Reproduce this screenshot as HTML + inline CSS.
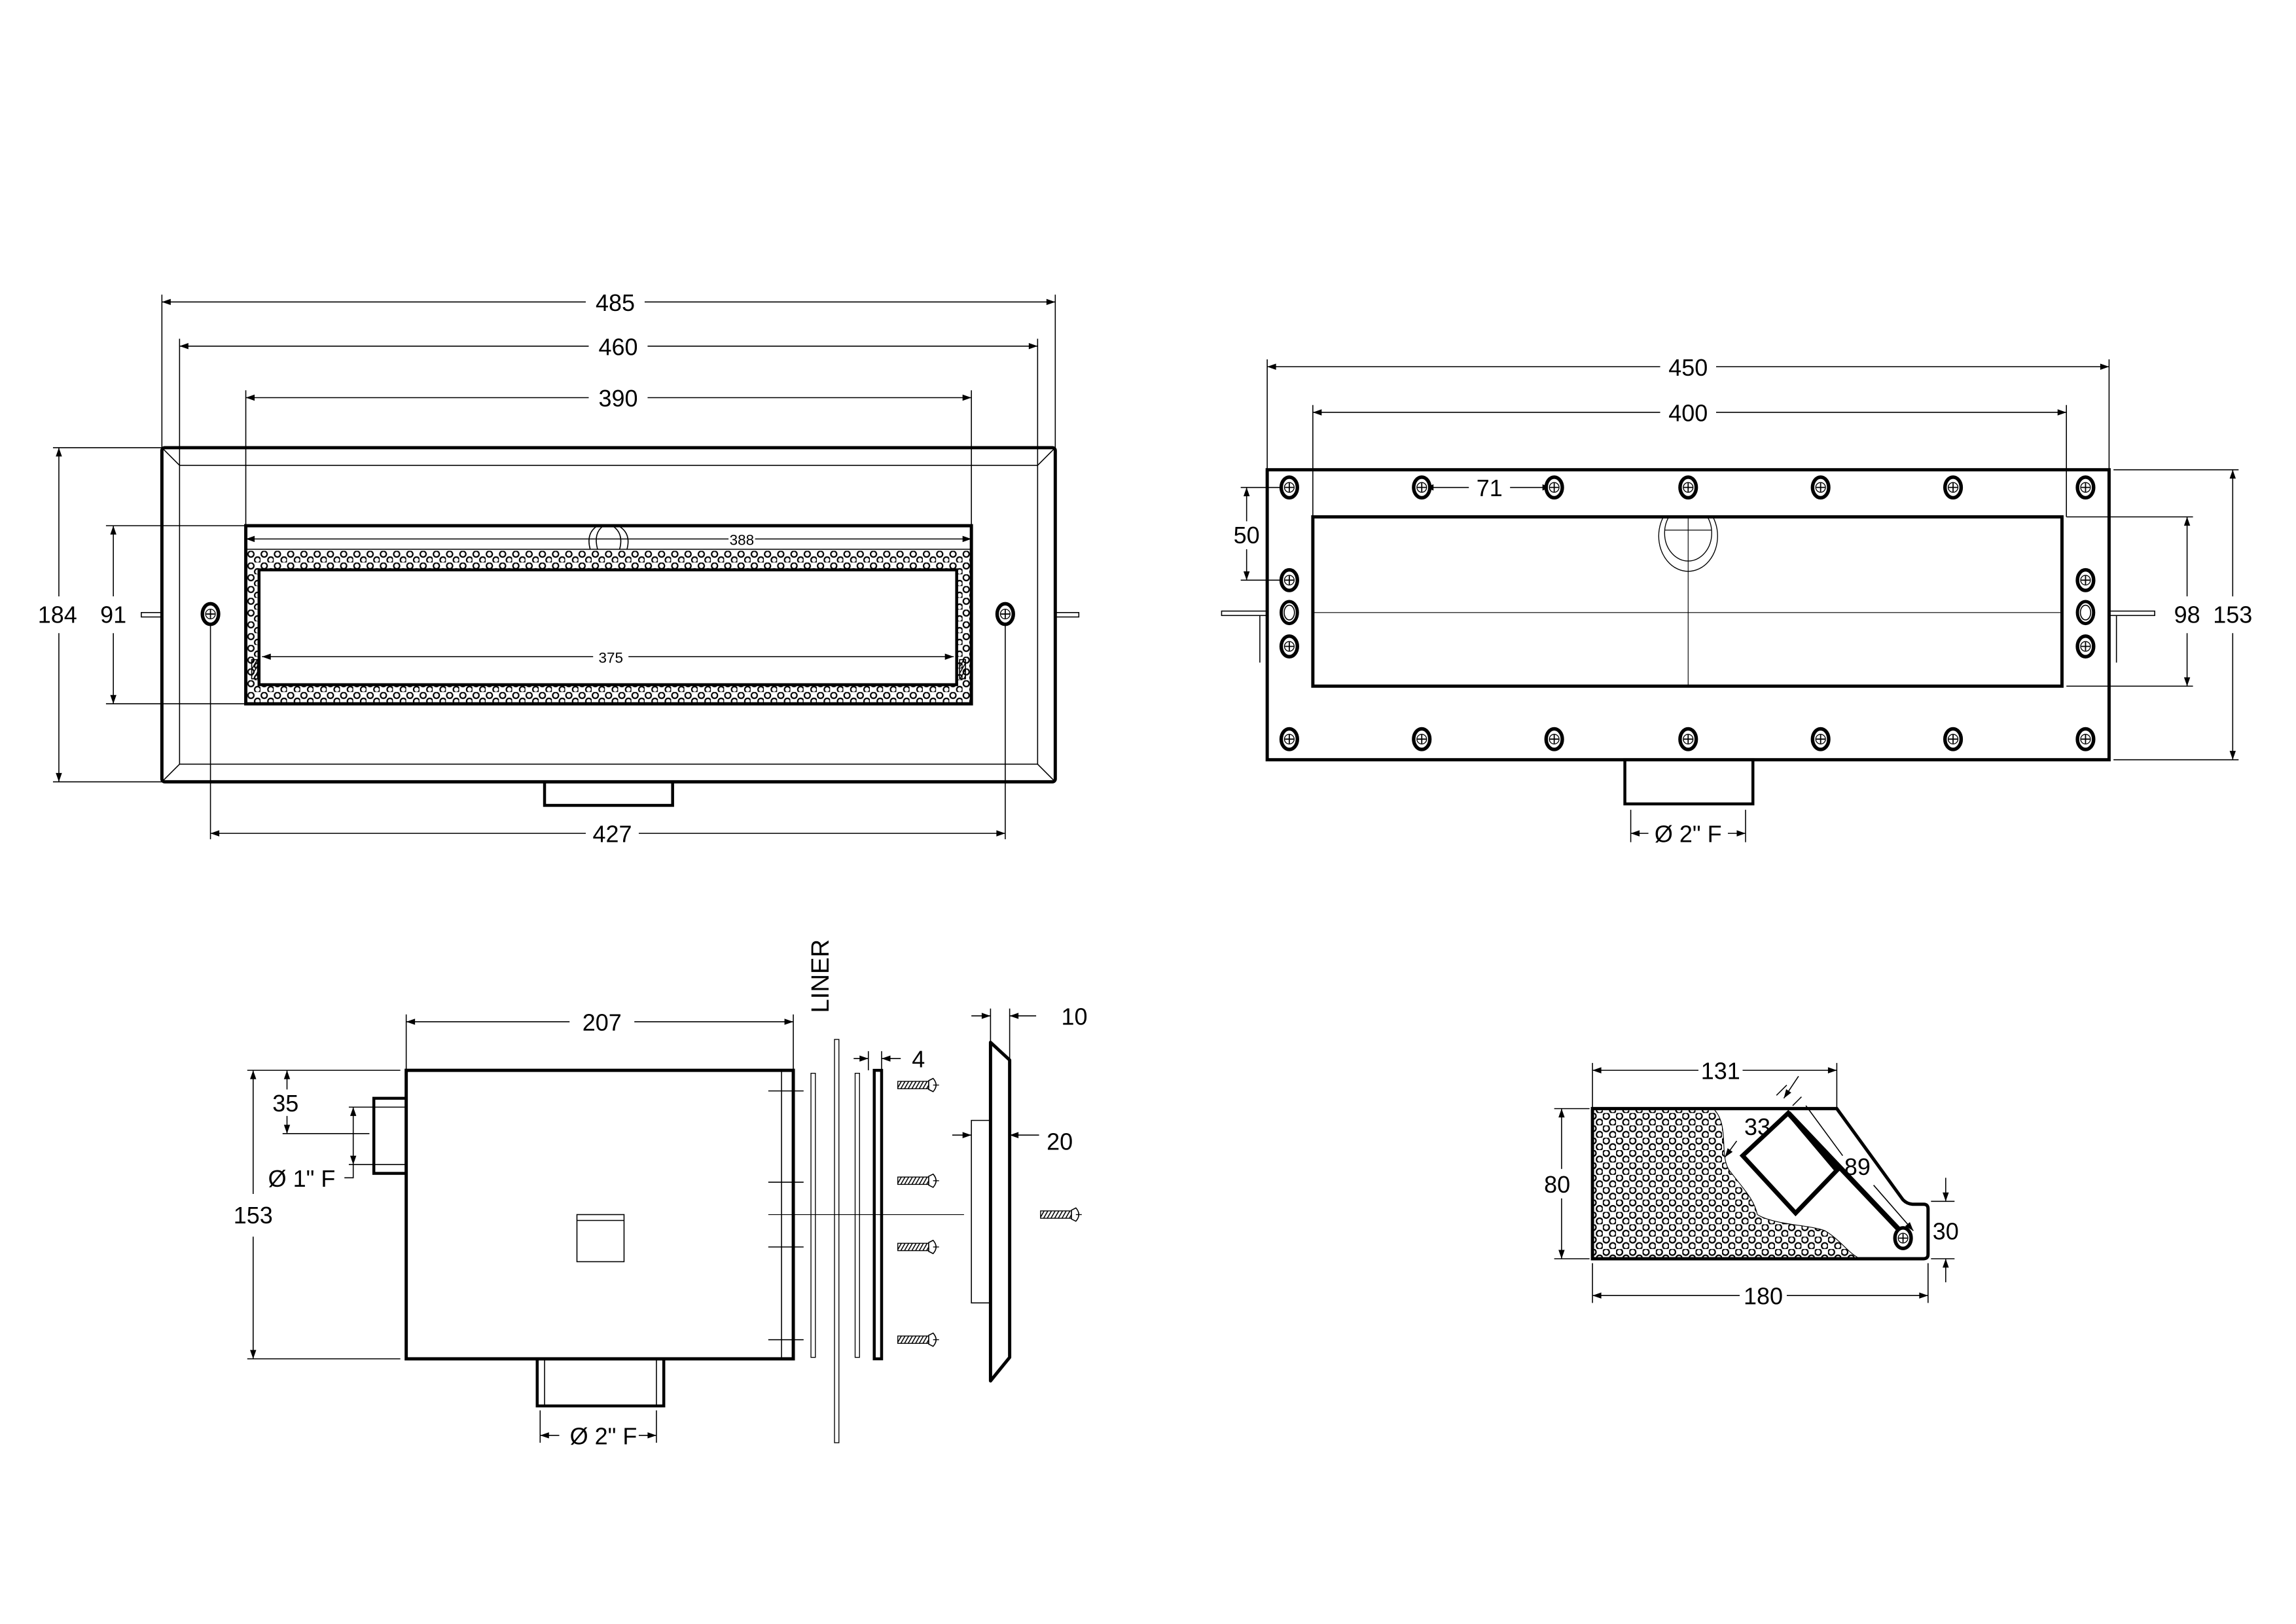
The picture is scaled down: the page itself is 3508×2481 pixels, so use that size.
<!DOCTYPE html>
<html><head><meta charset="utf-8"><style>
html,body{margin:0;padding:0;background:#fff;}
svg{display:block;}
text{font-family:"Liberation Sans",Arial,sans-serif;font-size:16px;text-anchor:middle;fill:#000;}
</style></head><body>
<svg width="3508" height="2481" viewBox="0 0 1560 1103" xmlns="http://www.w3.org/2000/svg">
<defs>
<marker id="a" viewBox="0 0 10 10" refX="10" refY="5" markerWidth="8" markerHeight="6" markerUnits="userSpaceOnUse" orient="auto-start-reverse"><path d="M0,1.5 L10,5 L0,8.5z" fill="#000"/></marker>
<pattern id="p1" width="9" height="8" patternUnits="userSpaceOnUse" x="168" y="374"><circle cx="2.5" cy="2.3" r="2" fill="none" stroke="#000" stroke-width="1"/><circle cx="7" cy="6.3" r="2" fill="none" stroke="#000" stroke-width="1"/></pattern>
<pattern id="p2" width="9" height="8.4" patternUnits="userSpaceOnUse"><circle cx="2.3" cy="2.1" r="2.1" fill="none" stroke="#000" stroke-width="1"/><circle cx="6.8" cy="6.3" r="2.1" fill="none" stroke="#000" stroke-width="1"/></pattern>
<pattern id="h" width="2.5" height="5" patternUnits="userSpaceOnUse" patternTransform="skewX(-30)"><path d="M1,0V5" stroke="#000" stroke-width="0.8"/></pattern>
<g id="s"><ellipse rx="5.5" ry="7" fill="#fff" stroke="#000" stroke-width="2.4"/><circle r="3.3" fill="none" stroke="#000" stroke-width="0.6"/><path d="M-3,0H3M0,-3V3" stroke="#000" stroke-width="0.8"/></g>
<g id="sc"><rect x="0" y="-2.5" width="21" height="5" fill="url(#h)" stroke="#000" stroke-width="0.6"/><path d="M21,-3 L24,-4.5 Q28,0 24,4.5 L21,3z" fill="#fff" stroke="#000" stroke-width="0.7"/><path d="M24,0H28" stroke="#000" stroke-width="0.6"/></g>
<clipPath id="cc"><rect x="892" y="351" width="509" height="115"/></clipPath>
</defs>
<g fill="none" stroke="#000" stroke-width="0.7">
<rect x="110" y="304" width="607" height="227" stroke-width="2.2" rx="2"/>
<rect x="122" y="316" width="583" height="203"/>
<path d="M110,304L122,316M717,304L705,316M110,531L122,519M717,531L705,519"/>
<rect x="96" y="416" width="14" height="3"/><rect x="717" y="416" width="16" height="3"/>
<rect x="167" y="357" width="493" height="121" stroke-width="2.2" fill="#fff"/>
<rect x="168" y="374" width="491" height="103" fill="url(#p1)" stroke="none"/>
<path d="M167,373H660"/>
<rect x="176" y="387" width="474" height="78" stroke-width="2" fill="#fff"/>
<path d="M401,373Q398,362 406,357M406,373Q403,362 410,357M421,373Q424,362 416,357M426,373Q429,362 420,357"/>
<path d="M167,366H495" marker-start="url(#a)"/><path d="M513,366H660" marker-end="url(#a)"/>
<path d="M178,446H403" marker-start="url(#a)"/><path d="M427,446H648" marker-end="url(#a)"/>
<rect x="171" y="448" width="4" height="13" fill="url(#h)"/><rect x="652" y="448" width="4" height="13" fill="url(#h)"/>
<path d="M143,423V570M683,423V570"/>
<path d="M143,566H398" marker-start="url(#a)"/><path d="M434,566H683" marker-end="url(#a)"/>
<rect x="370" y="531" width="87" height="16" stroke-width="2"/>
<path d="M110,200V304M717,200V304M122,230V316M705,230V316M167,265V357M660,265V357"/>
<path d="M110,205H398" marker-start="url(#a)"/><path d="M438,205H717" marker-end="url(#a)"/>
<path d="M122,235H400" marker-start="url(#a)"/><path d="M440,235H705" marker-end="url(#a)"/>
<path d="M167,270H400" marker-start="url(#a)"/><path d="M440,270H660" marker-end="url(#a)"/>
<path d="M36,304H110M36,531H110M72,357H167M72,478H167"/>
<path d="M40,304V405" marker-start="url(#a)"/><path d="M40,430V531" marker-end="url(#a)"/>
<path d="M77,357V405" marker-start="url(#a)"/><path d="M77,430V478" marker-end="url(#a)"/>
<rect x="861" y="319" width="572" height="197" stroke-width="2.2"/>
<rect x="892" y="351" width="509" height="115" stroke-width="2.2"/>
<path d="M861,244V319M1433,244V319M892,275V351M1404,275V351"/>
<path d="M861,249H1128" marker-start="url(#a)"/><path d="M1166,249H1433" marker-end="url(#a)"/>
<path d="M892,280H1128" marker-start="url(#a)"/><path d="M1166,280H1404" marker-end="url(#a)"/>
<path d="M892,416H1401M1147,351V466" stroke-width="0.5"/>
<g clip-path="url(#cc)" stroke-width="0.6"><ellipse cx="1147" cy="364" rx="20" ry="24"/><ellipse cx="1147" cy="362" rx="16" ry="19"/><path d="M1131,360H1163"/></g>
<rect x="830" y="415" width="31" height="3"/><path d="M856,418V450"/>
<rect x="1433" y="415" width="31" height="3"/><path d="M1438,418V450"/>
<ellipse cx="876" cy="416" rx="5.5" ry="7.5" stroke-width="2.2"/><ellipse cx="876" cy="416" rx="3.5" ry="5"/>
<ellipse cx="1417" cy="416" rx="5.5" ry="7.5" stroke-width="2.2"/><ellipse cx="1417" cy="416" rx="3.5" ry="5"/>
<path d="M998,331H968" marker-end="url(#a)"/><path d="M1026,331H1054" marker-end="url(#a)"/>
<path d="M843,331H876M843,394H876"/>
<path d="M847,354V331" marker-end="url(#a)"/><path d="M847,373V394" marker-end="url(#a)"/>
<path d="M1404,351H1490M1404,466H1490M1436,319H1521M1436,516H1521"/>
<path d="M1486,351V405" marker-start="url(#a)"/><path d="M1486,430V466" marker-end="url(#a)"/>
<path d="M1517,319V405" marker-start="url(#a)"/><path d="M1517,430V516" marker-end="url(#a)"/>
<rect x="1104" y="516" width="87" height="30" stroke-width="2"/>
<path d="M1108,550V572M1186,550V572"/>
<path d="M1120,566H1108" marker-end="url(#a)"/><path d="M1174,566H1186" marker-end="url(#a)"/>
<rect x="276" y="727" width="263" height="196" stroke-width="2.2"/>
<path d="M531,727V923M522,741H546M522,803H546M522,847H546M522,910H546"/>
<rect x="254" y="746" width="22" height="51" stroke-width="2"/><path d="M254,752H276M254,791H276"/>
<path d="M276,689V727M539,689V727"/>
<path d="M276,694H387" marker-start="url(#a)"/><path d="M431,694H539" marker-end="url(#a)"/>
<path d="M168,727H272M168,923H272"/>
<path d="M172,727V811" marker-start="url(#a)"/><path d="M172,840V923" marker-end="url(#a)"/>
<path d="M192,770H251"/>
<path d="M195,740V727" marker-end="url(#a)"/><path d="M195,758V770" marker-end="url(#a)"/>
<path d="M237,752H254M237,791H254"/>
<path d="M240,752V791" marker-start="url(#a)" marker-end="url(#a)"/>
<path d="M240,791V800H234"/>
<rect x="392" y="825" width="32" height="32"/><path d="M392,829H424"/>
<rect x="365" y="923" width="86" height="32" stroke-width="2"/><path d="M370,923V955M446,923V955"/>
<path d="M367,958V980M446,958V980"/>
<path d="M380,975H367" marker-end="url(#a)"/><path d="M434,975H446" marker-end="url(#a)"/>
<path d="M522,825H655" stroke-width="0.5"/>
<rect x="551" y="729" width="3" height="193" stroke-width="0.6"/>
<rect x="567" y="706" width="3" height="274" stroke-width="0.6"/>
<rect x="581" y="729" width="3" height="193" stroke-width="0.6"/>
<rect x="594" y="727" width="5" height="196" stroke-width="2"/>
<path d="M590,714V727M599,714V727"/>
<path d="M580,719H590" marker-end="url(#a)"/><path d="M612,719H599" marker-end="url(#a)"/>
<path d="M673,708L686,720V922L673,938Z" stroke-width="2.2" stroke-linejoin="round"/>
<path d="M673,761H660V885H673"/>
<path d="M673,685V708M686,685V720"/>
<path d="M660,690H673" marker-end="url(#a)"/><path d="M704,690H686" marker-end="url(#a)"/>
<path d="M647,771H660" marker-end="url(#a)"/><path d="M706,771H686" marker-end="url(#a)"/>
<path d="M1083,754H1165C1175,765 1168,785 1175,795C1185,808 1192,815 1194,825C1205,832 1230,832 1240,836C1250,842 1255,850 1262,854H1083Z" fill="url(#p2)" stroke="none"/>
<path d="M1165,754C1175,765 1168,785 1175,795C1185,808 1192,815 1194,825C1205,832 1230,832 1240,836C1250,842 1255,850 1262,854" stroke-width="0.5"/>
<path d="M1082,753H1248L1293,815Q1296,818 1300,818H1307Q1310,818 1310,821V852Q1310,855 1307,855H1082Z" stroke-width="2.2"/>
<path d="M1215,756L1248,795L1220,824L1184,785Z" stroke-width="3"/>
<path d="M1215,756L1291,836" stroke-width="3.5"/>
<path d="M1227,751L1252,785"/><path d="M1273,805L1300,836" marker-end="url(#a)"/>
<path d="M1218,751L1224,745M1207,744L1214,737"/>
<path d="M1222,731L1212,746" marker-end="url(#a)"/>
<path d="M1180,775L1172,786" marker-end="url(#a)"/>
<path d="M1056,753H1080M1056,855H1080"/>
<path d="M1061,753V794" marker-start="url(#a)"/><path d="M1061,814V855" marker-end="url(#a)"/>
<path d="M1312,816H1328M1312,855H1328"/>
<path d="M1322,800V816" marker-end="url(#a)"/><path d="M1322,871V855" marker-end="url(#a)"/>
<path d="M1082,858V885M1310,858V885"/>
<path d="M1082,880H1182" marker-start="url(#a)"/><path d="M1214,880H1310" marker-end="url(#a)"/>
<path d="M1082,722V752M1248,722V752"/>
<path d="M1082,727H1154" marker-start="url(#a)"/><path d="M1184,727H1248" marker-end="url(#a)"/>
</g>
<use href="#s" x="143" y="417"/><use href="#s" x="683" y="417"/>
<use href="#s" x="876" y="331"/><use href="#s" x="966" y="331"/><use href="#s" x="1056" y="331"/><use href="#s" x="1147" y="331"/><use href="#s" x="1237" y="331"/><use href="#s" x="1327" y="331"/><use href="#s" x="1417" y="331"/>
<use href="#s" x="876" y="502"/><use href="#s" x="966" y="502"/><use href="#s" x="1056" y="502"/><use href="#s" x="1147" y="502"/><use href="#s" x="1237" y="502"/><use href="#s" x="1327" y="502"/><use href="#s" x="1417" y="502"/>
<use href="#s" x="876" y="394"/><use href="#s" x="876" y="439"/><use href="#s" x="1417" y="394"/><use href="#s" x="1417" y="439"/>
<use href="#s" x="1293" y="841"/>
<use href="#sc" x="610" y="737"/><use href="#sc" x="610" y="802"/><use href="#sc" x="610" y="847"/><use href="#sc" x="610" y="910"/><use href="#sc" x="707" y="825"/>
<text x="418" y="211">485</text><text x="420" y="241">460</text><text x="420" y="276">390</text>
<text x="504" y="370" style="font-size:10px">388</text><text x="415" y="450" style="font-size:10px">375</text>
<text x="39" y="423">184</text><text x="77" y="423">91</text><text x="416" y="572">427</text>
<text x="1147" y="255">450</text><text x="1147" y="286">400</text><text x="1012" y="337">71</text>
<text x="847" y="369">50</text><text x="1486" y="423">98</text><text x="1517" y="423">153</text>
<text x="1147" y="572">Ø 2" F</text>
<text x="409" y="700">207</text><text x="172" y="831">153</text><text x="194" y="755">35</text>
<text x="205" y="806">Ø 1" F</text><text x="410" y="981">Ø 2" F</text>
<text x="563" y="663" transform="rotate(-90 563 663)" style="font-size:17px">LINER</text>
<text x="624" y="725">4</text><text x="730" y="696">10</text><text x="720" y="781">20</text>
<text x="1169" y="733">131</text><text x="1058" y="810">80</text><text x="1198" y="886">180</text>
<text x="1322" y="842">30</text><text x="1194" y="771">33</text><text x="1262" y="798">89</text>
</svg>
</body></html>
